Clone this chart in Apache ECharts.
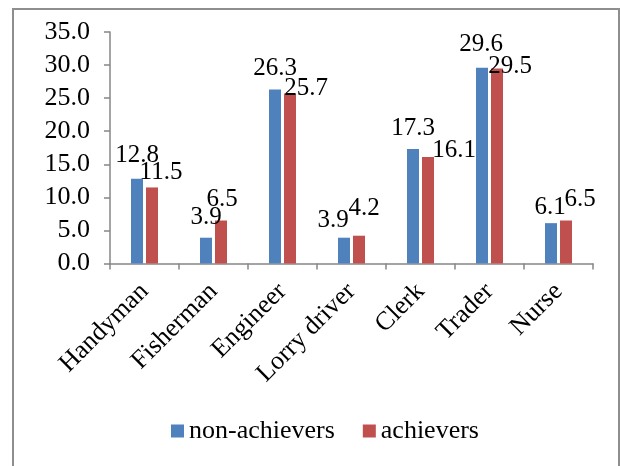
<!DOCTYPE html>
<html>
<head>
<meta charset="utf-8">
<script src="https://cdn.jsdelivr.net/npm/echarts@6/dist/echarts.min.js"></script>
<style>
  html, body { margin: 0; padding: 0; background: #ffffff; }
  #chart { width: 620px; height: 466px; }
</style>
</head>
<body>
<div id="chart"></div>
<script>
// Occupation categories and the share (%) for each group
var occupations = ['Handyman', 'Fisherman', 'Engineer', 'Lorry driver', 'Clerk', 'Trader', 'Nurse'];
var nonAchievers = [12.8, 3.9, 26.3, 3.9, 17.3, 29.6, 6.1];
var achievers = [11.5, 6.5, 25.7, 4.2, 16.1, 29.5, 6.5];
var yTicks = { min: 0, max: 35, step: 5 };

// Hand-placed data label nudges (px), one per bar
var nonAchieverLabelNudge = [[0, -11], [0, -8], [0, -9], [-11, -5], [0, -9], [-1, -11], [-1, -4]];
var achieverLabelNudge = [[9, -3], [1, -9], [16, 7], [5, -15], [26, 5], [13, 10], [14, -9]];

var FONT = 'Liberation Serif';
var AXIS_GREY = '#868686';

function withLabels(values, nudges) {
  return values.map(function (v, i) {
    return {
      value: v,
      label: { offset: nudges[i] }
    };
  });
}

var labelStyle = {
  show: true,
  position: 'top',
  distance: 0,
  fontFamily: FONT,
  fontSize: 25,
  lineHeight: 24,
  color: '#000000',
  formatter: function (p) { return p.value.toFixed(1); }
};

var chart = echarts.init(document.getElementById('chart'), null, { renderer: 'canvas' });

chart.setOption({
  animation: false,
  backgroundColor: '#ffffff',
  graphic: [{
    type: 'rect',
    shape: { x: 13, y: 9, width: 606, height: 500 },
    style: { fill: 'none', stroke: '#8e8e8e', lineWidth: 2 },
    z: -1
  }],
  grid: { left: 110, top: 32, width: 483, height: 231.5, containLabel: false },
  legend: {
    data: ['non-achievers', 'achievers'],
    left: 166,
    top: 413,
    itemWidth: 13,
    itemHeight: 13,
    itemGap: 28,
    icon: 'rect',
    textStyle: { fontFamily: FONT, fontSize: 26, lineHeight: 26, color: '#000000', padding: [0, 0, 0, 0] }
  },
  xAxis: {
    type: 'category',
    data: occupations,
    axisLine: { lineStyle: { color: AXIS_GREY, width: 1.5 } },
    axisTick: { show: true, length: 6, lineStyle: { color: AXIS_GREY, width: 1.5 } },
    axisLabel: {
      rotate: 45,
      margin: 24,
      interval: 0,
      fontFamily: FONT,
      fontSize: 26,
      color: '#000000'
    }
  },
  yAxis: {
    type: 'value',
    min: yTicks.min,
    max: yTicks.max,
    interval: yTicks.step,
    splitLine: { show: false },
    axisLine: { show: true, lineStyle: { color: AXIS_GREY, width: 1.5 } },
    axisTick: { show: true, length: 6, lineStyle: { color: AXIS_GREY, width: 1.5 } },
    axisLabel: {
      margin: 20,
      fontFamily: FONT,
      fontSize: 26,
      color: '#000000',
      formatter: function (v) { return v.toFixed(1); }
    }
  },
  series: [{
    name: 'non-achievers',
    type: 'bar',
    barWidth: 12,
    barGap: '25%',
    itemStyle: { color: '#4F81BD' },
    label: labelStyle,
    data: withLabels(nonAchievers, nonAchieverLabelNudge)
  }, {
    name: 'achievers',
    type: 'bar',
    barWidth: 12,
    barGap: '25%',
    itemStyle: { color: '#C0504D' },
    label: labelStyle,
    data: withLabels(achievers, achieverLabelNudge)
  }]
});
</script>
</body>
</html>
